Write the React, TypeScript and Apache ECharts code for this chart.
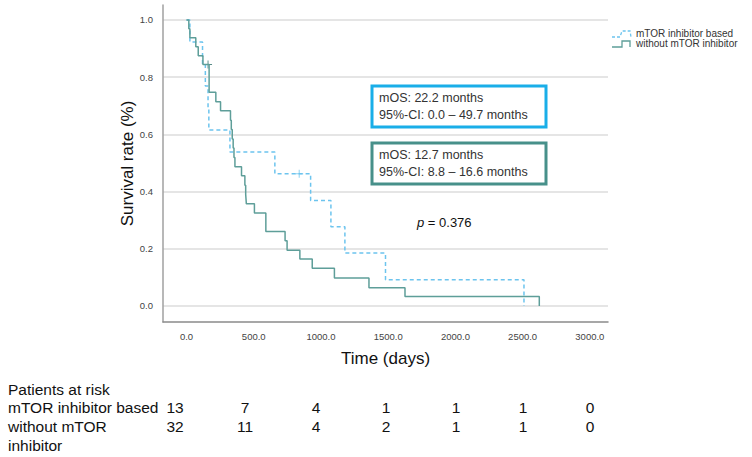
import React, { useEffect, useRef } from "react";
import * as echarts from "echarts";

// Kaplan-Meier data: [time (days), survival after event]
const mtorCurve: [number, number][] = [
  [0, 1], [25, 0.923], [119, 0.846], [140, 0.769], [160, 0.692], [166, 0.615],
  [323, 0.538], [657, 0.462], [923, 0.369], [1074, 0.277], [1178, 0.185],
  [1480, 0.092], [2510, 0],
];
const withoutCurve: [number, number][] = [
  [0, 1], [17, 0.969], [25, 0.9375], [69, 0.906], [87, 0.875], [122, 0.844],
  [168, 0.747], [218, 0.714], [253, 0.682], [327, 0.649], [333, 0.617],
  [340, 0.584], [347, 0.552], [353, 0.519], [360, 0.487], [409, 0.455],
  [434, 0.422], [440, 0.39], [445, 0.357], [505, 0.325], [590, 0.26],
  [733, 0.228], [748, 0.195], [843, 0.164], [935, 0.132], [1100, 0.098],
  [1357, 0.064], [1625, 0.033], [2624, 0],
];
const mtorCensored: [number, number][] = [[838, 0.462]];
const withoutCensored: [number, number][] = [[160, 0.844]];

const xTicks = [0, 500, 1000, 1500, 2000, 2500, 3000];
const yTicks = [0, 0.2, 0.4, 0.6, 0.8, 1.0];

const seriesNames = ["mTOR inhibitor based", "without mTOR inhibitor"];
const riskTitle = "Patients at risk";
const riskMtor = [13, 7, 4, 1, 1, 1, 0];
const riskWithout = [32, 11, 4, 2, 1, 1, 0];
const riskX = [175, 245, 316, 386, 456, 523, 590];

const box1Lines = ["mOS: 22.2 months", "95%-CI: 0.0 \u2013 49.7 months"];
const box2Lines = ["mOS: 12.7 months", "95%-CI: 8.8 \u2013 16.6 months"];

const BLUE = "#6cc4ee";
const TEAL = "#5e9e99";
const BOX_BLUE = "#19aee8";
const BOX_TEAL = "#47908a";
const FONT = "Liberation Sans, Arial, sans-serif";

export default function App() {
  const ref = useRef<HTMLDivElement>(null);
  useEffect(() => {
    if (!ref.current) return;
    const chart = echarts.init(ref.current, null, { renderer: "svg" });
    const plus = "path://M0,4.4h10v1.2h-10z M4.4,0h1.2v10h-1.2z";
    const riskTexts: any[] = [];
    riskMtor.forEach((v, i) =>
      riskTexts.push({
        type: "text", x: riskX[i], y: 407,
        style: { text: String(v), fill: "#111", font: `15.5px ${FONT}`, align: "center", verticalAlign: "middle" },
      })
    );
    riskWithout.forEach((v, i) =>
      riskTexts.push({
        type: "text", x: riskX[i], y: 426,
        style: { text: String(v), fill: "#111", font: `15.5px ${FONT}`, align: "center", verticalAlign: "middle" },
      })
    );
    const boxText = (lines: string[], y: number) =>
      lines.map((t, i) => ({
        type: "text", x: 379, y: y + i * 17,
        style: { text: t, fill: "#333", font: `12.5px ${FONT}`, verticalAlign: "middle" },
      }));

    chart.setOption({
      animation: false,
      backgroundColor: "#fff",
      grid: { left: 163, right: 144, top: 5, bottom: 135 },
      xAxis: {
        type: "value", min: -175, max: 3135,
        name: "Time (days)", nameLocation: "middle", nameGap: 28, nameMoveOverlap: false,
        nameTextStyle: { fontSize: 17, color: "#111", fontFamily: FONT },
        axisLine: { show: true, onZero: false, lineStyle: { color: "#8a8a8a", width: 1.5 } },
        axisTick: { show: false, customValues: xTicks },
        axisLabel: { customValues: xTicks, formatter: (v: number) => v.toFixed(1), fontSize: 9.5, color: "#444", fontFamily: FONT, margin: 9 },
        splitLine: { show: false },
      },
      yAxis: {
        type: "value", min: -0.056, max: 1.052,
        name: "Survival rate (%)", nameLocation: "middle", nameGap: 27, nameMoveOverlap: false,
        nameTextStyle: { fontSize: 17, color: "#111", fontFamily: FONT },
        axisLine: { show: true, onZero: false, lineStyle: { color: "#a0a0a0", width: 1.5 } },
        axisTick: { show: false, customValues: yTicks },
        axisLabel: { customValues: yTicks, formatter: (v: number) => v.toFixed(1), fontSize: 9.5, color: "#444", fontFamily: FONT, margin: 10 },
        splitLine: { show: true, lineStyle: { color: "#dcdcdc", width: 1.5 } },
      },
      series: [
        {
          name: seriesNames[0], type: "line", step: "end", data: mtorCurve, symbol: "none",
          lineStyle: { color: BLUE, width: 1.5, type: [4, 3] },
        },
        {
          name: seriesNames[1], type: "line", step: "end", data: withoutCurve, symbol: "none",
          lineStyle: { color: TEAL, width: 1.5 },
        },
        {
          type: "scatter", data: mtorCensored, symbol: plus, symbolSize: 8,
          itemStyle: { color: BLUE },
        },
        {
          type: "scatter", data: withoutCensored, symbol: plus, symbolSize: 8,
          itemStyle: { color: "#2f6f6a" },
        },
      ],
      graphic: [
        // legend
        {
          type: "polyline",
          shape: { points: [[612, 37], [620, 37], [622, 31], [630, 31], [631, 37]] },
          style: { stroke: BLUE, lineWidth: 1.3, lineDash: [3, 2], fill: null },
        },
        {
          type: "text", x: 636, y: 33,
          style: { text: seriesNames[0], fill: "#333", font: `10px ${FONT}`, verticalAlign: "middle" },
        },
        {
          type: "polyline",
          shape: { points: [[612, 47], [622, 47], [622, 41], [630, 41], [630, 47]] },
          style: { stroke: TEAL, lineWidth: 1.3, fill: null },
        },
        {
          type: "text", x: 636, y: 43.5,
          style: { text: seriesNames[1], fill: "#333", font: `10px ${FONT}`, verticalAlign: "middle" },
        },
        // boxes
        {
          type: "rect", shape: { x: 372, y: 86, width: 174, height: 41 },
          style: { stroke: BOX_BLUE, lineWidth: 3, fill: "#fff" },
        },
        ...boxText(box1Lines, 98),
        {
          type: "rect", shape: { x: 372, y: 143, width: 174, height: 41 },
          style: { stroke: BOX_TEAL, lineWidth: 3, fill: "#fff" },
        },
        ...boxText(box2Lines, 155),
        // p value
        {
          type: "text", x: 417, y: 222,
          style: {
            text: "{i|p} = 0.376",
            font: `13px ${FONT}`, fill: "#111", verticalAlign: "middle",
            rich: { i: { fontStyle: "italic", fontSize: 13, fontFamily: FONT } },
          },
        },
        // risk table
        {
          type: "text", x: 8, y: 389,
          style: { text: riskTitle, fill: "#111", font: `15.5px ${FONT}`, verticalAlign: "middle" },
        },
        {
          type: "text", x: 8, y: 407,
          style: { text: seriesNames[0], fill: "#111", font: `15.5px ${FONT}`, verticalAlign: "middle" },
        },
        {
          type: "text", x: 8, y: 426,
          style: { text: "without mTOR", fill: "#111", font: `15.5px ${FONT}`, verticalAlign: "middle" },
        },
        {
          type: "text", x: 8, y: 445,
          style: { text: "inhibitor", fill: "#111", font: `15.5px ${FONT}`, verticalAlign: "middle" },
        },
        ...riskTexts,
      ],
    });
    return () => chart.dispose();
  }, []);
  return (
    <div
      ref={ref}
      style={{ position: "absolute", left: 0, top: 0, width: 752, height: 457 }}
    />
  );
}
